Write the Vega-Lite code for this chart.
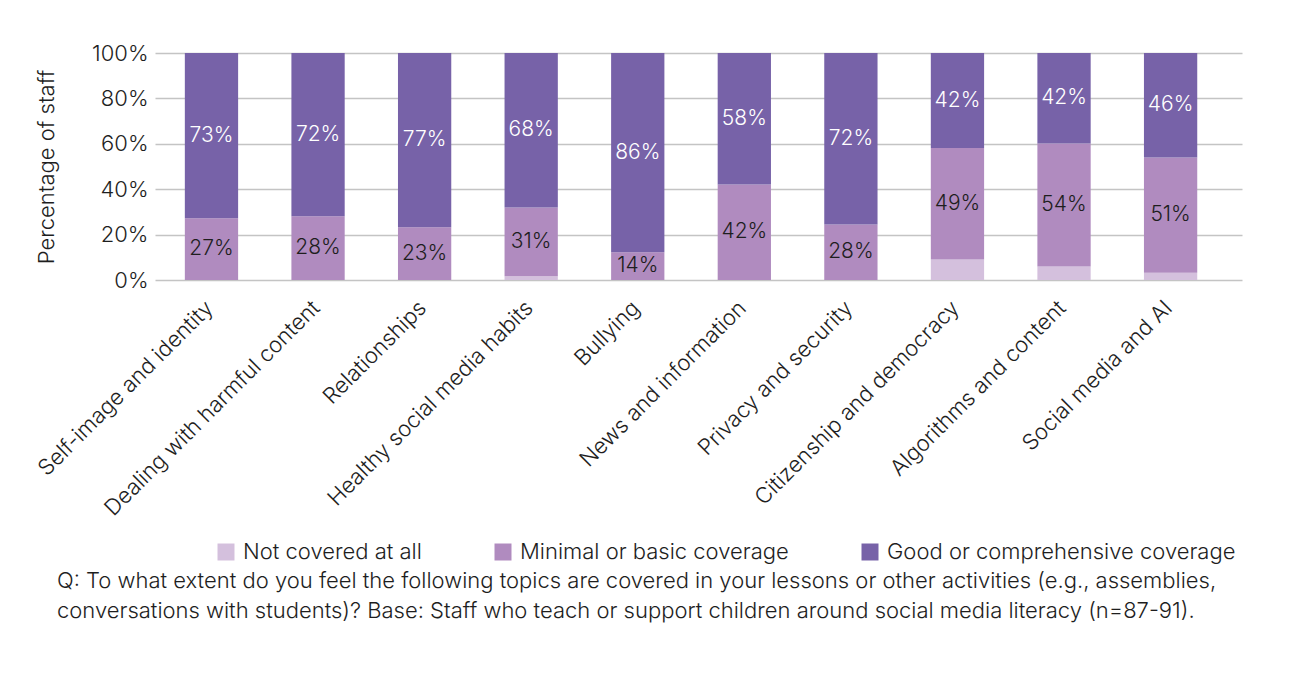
{
  "$schema": "https://vega.github.io/schema/vega-lite/v6.json",
  "width": 1087,
  "height": 227,
  "autosize": {"type": "none"},
  "padding": {"left": 155, "top": 53, "right": 50, "bottom": 404},
  "config": {
    "font": "Inter",
    "view": {"stroke": null},
    "text": {"font": "Inter", "fontWeight": 300},
    "axis": {"labelFont": "Inter", "titleFont": "Inter", "labelFontWeight": 300, "labelFontSize": 22, "labelColor": "#1e1e1e", "titleColor": "#1e1e1e", "titleFontWeight": 300, "titleFontSize": 22, "ticks": false, "domain": false, "gridColor": "#c4c4c4", "gridWidth": 1.5},
    "legend": {"labelFont": "Inter", "labelFontWeight": 300}
  },
  "data": {
    "values": [
      {"topic": "Self-image and identity", "coverage": "Not covered at all", "k": 1, "value": 0, "label": ""},
      {"topic": "Self-image and identity", "coverage": "Minimal or basic coverage", "k": 2, "value": 27.2, "label": "27%"},
      {"topic": "Self-image and identity", "coverage": "Good or comprehensive coverage", "k": 3, "value": 72.8, "label": "73%"},
      {"topic": "Dealing with harmful content", "coverage": "Not covered at all", "k": 1, "value": 0, "label": ""},
      {"topic": "Dealing with harmful content", "coverage": "Minimal or basic coverage", "k": 2, "value": 28.1, "label": "28%"},
      {"topic": "Dealing with harmful content", "coverage": "Good or comprehensive coverage", "k": 3, "value": 71.9, "label": "72%"},
      {"topic": "Relationships", "coverage": "Not covered at all", "k": 1, "value": 0, "label": ""},
      {"topic": "Relationships", "coverage": "Minimal or basic coverage", "k": 2, "value": 23.2, "label": "23%"},
      {"topic": "Relationships", "coverage": "Good or comprehensive coverage", "k": 3, "value": 76.8, "label": "77%"},
      {"topic": "Healthy social media habits", "coverage": "Not covered at all", "k": 1, "value": 1.6, "label": ""},
      {"topic": "Healthy social media habits", "coverage": "Minimal or basic coverage", "k": 2, "value": 30.3, "label": "31%"},
      {"topic": "Healthy social media habits", "coverage": "Good or comprehensive coverage", "k": 3, "value": 68.1, "label": "68%"},
      {"topic": "Bullying", "coverage": "Not covered at all", "k": 1, "value": 0, "label": ""},
      {"topic": "Bullying", "coverage": "Minimal or basic coverage", "k": 2, "value": 12.2, "label": "14%"},
      {"topic": "Bullying", "coverage": "Good or comprehensive coverage", "k": 3, "value": 87.8, "label": "86%"},
      {"topic": "News and information", "coverage": "Not covered at all", "k": 1, "value": 0, "label": ""},
      {"topic": "News and information", "coverage": "Minimal or basic coverage", "k": 2, "value": 42.1, "label": "42%"},
      {"topic": "News and information", "coverage": "Good or comprehensive coverage", "k": 3, "value": 57.9, "label": "58%"},
      {"topic": "Privacy and security", "coverage": "Not covered at all", "k": 1, "value": 0, "label": ""},
      {"topic": "Privacy and security", "coverage": "Minimal or basic coverage", "k": 2, "value": 24.4, "label": "28%"},
      {"topic": "Privacy and security", "coverage": "Good or comprehensive coverage", "k": 3, "value": 75.6, "label": "72%"},
      {"topic": "Citizenship and democracy", "coverage": "Not covered at all", "k": 1, "value": 9.0, "label": ""},
      {"topic": "Citizenship and democracy", "coverage": "Minimal or basic coverage", "k": 2, "value": 49.1, "label": "49%"},
      {"topic": "Citizenship and democracy", "coverage": "Good or comprehensive coverage", "k": 3, "value": 41.9, "label": "42%"},
      {"topic": "Algorithms and content", "coverage": "Not covered at all", "k": 1, "value": 5.9, "label": ""},
      {"topic": "Algorithms and content", "coverage": "Minimal or basic coverage", "k": 2, "value": 54.2, "label": "54%"},
      {"topic": "Algorithms and content", "coverage": "Good or comprehensive coverage", "k": 3, "value": 39.9, "label": "42%"},
      {"topic": "Social media and AI", "coverage": "Not covered at all", "k": 1, "value": 3.2, "label": ""},
      {"topic": "Social media and AI", "coverage": "Minimal or basic coverage", "k": 2, "value": 50.8, "label": "51%"},
      {"topic": "Social media and AI", "coverage": "Good or comprehensive coverage", "k": 3, "value": 46.0, "label": "46%"}
    ]
  },
  "title": {
    "text": ["Q: To what extent do you feel the following topics are covered in your lessons or other activities (e.g., assemblies,", "conversations with students)? Base: Staff who teach or support children around social media literacy (n=87-91)."],
    "orient": "bottom",
    "anchor": "start",
    "frame": "group",
    "dx": -98,
    "offset": 8,
    "font": "Inter",
    "fontSize": 22,
    "fontWeight": 300,
    "lineHeight": 30,
    "color": "#1e1e1e"
  },
  "encoding": {
    "x": {
      "field": "topic",
      "type": "nominal",
      "sort": null,
      "scale": {"paddingInner": 0.5, "paddingOuter": 0.35, "align": 0.4},
      "axis": {"title": null, "labelAngle": -45, "labelPadding": 17, "labelOffset": -9, "grid": false, "labelLimit": 400}
    }
  },
  "layer": [
    {
      "mark": {"type": "bar"},
      "encoding": {
        "y": {
          "field": "value",
          "type": "quantitative",
          "stack": "zero",
          "scale": {"domain": [0, 100]},
          "axis": {"title": "Percentage of staff", "values": [0, 20, 40, 60, 80, 100], "labelExpr": "datum.value + '%'", "labelPadding": 7, "titlePadding": 33, "grid": true}
        },
        "color": {
          "field": "coverage",
          "type": "nominal",
          "scale": {
            "domain": ["Not covered at all", "Minimal or basic coverage", "Good or comprehensive coverage"],
            "range": ["#d4c0dd", "#b08bbf", "#7762a8"]
          },
          "legend": {
            "title": null,
            "orient": "none",
            "legendX": 60,
            "legendY": 488,
            "direction": "horizontal",
            "symbolType": "square",
            "symbolSize": 289,
            "symbolStrokeWidth": 0,
            "labelFontSize": 22,
            "labelColor": "#1e1e1e",
            "labelOffset": 6,
            "columnPadding": 70,
            "labelLimit": 500
          }
        },
        "order": {"field": "k"}
      }
    },
    {
      "mark": {"type": "text", "fontSize": 21},
      "encoding": {
        "y": {"field": "value", "type": "quantitative", "stack": "zero", "bandPosition": 0.5},
        "detail": {"field": "coverage"},
        "order": {"field": "k"},
        "text": {"field": "label"},
        "color": {"condition": {"test": "datum.k === 3", "value": "#ffffff"}, "value": "#1e1e1e"}
      }
    }
  ]
}
